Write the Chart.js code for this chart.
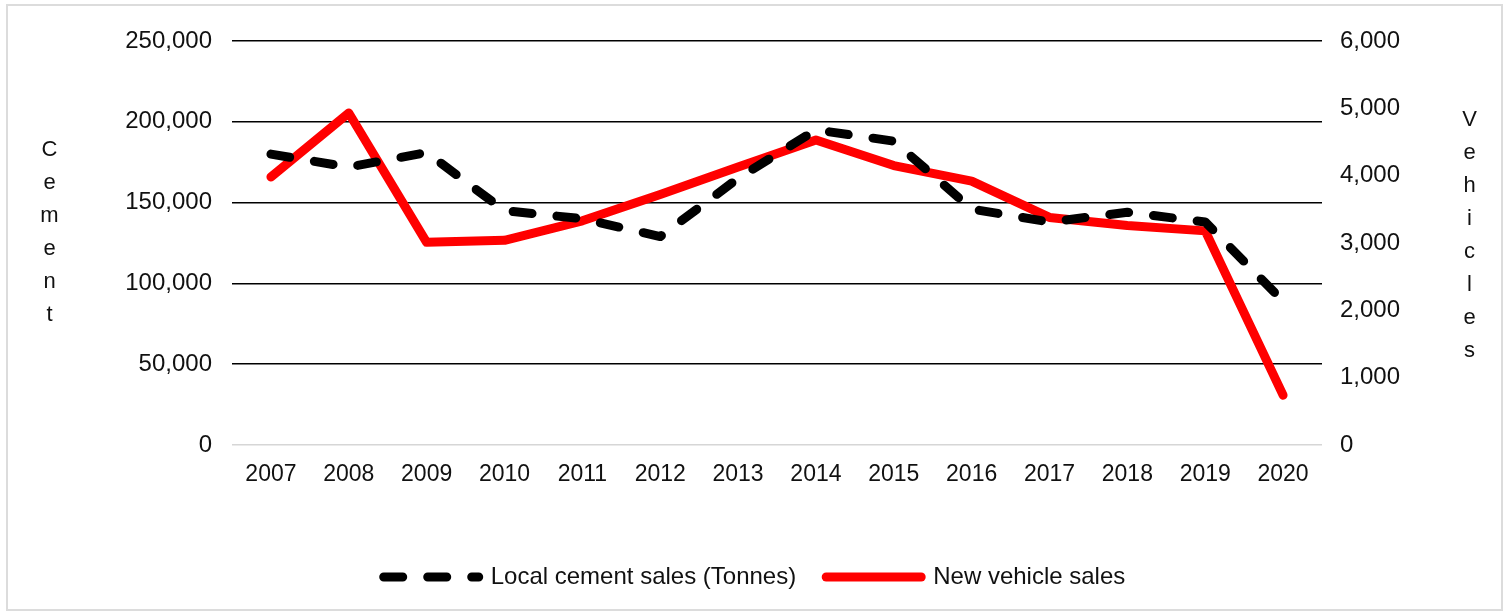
<!DOCTYPE html>
<html>
<head>
<meta charset="utf-8">
<script src="https://cdn.jsdelivr.net/npm/chart.js@4/dist/chart.umd.min.js"></script>
<style>
    body { margin: 0; background: #fff; }
    #wrap { position: relative; width: 1509px; height: 614px; }
    #frame { position: absolute; left: 6px; top: 4px; width: 1493px; height: 603px; border: 2px solid #dcdcdc; }
    canvas { position: absolute; left: 0; top: 0; }
    .axisTitle
    {
        position: absolute;
        font-family: "Liberation Sans", Arial, sans-serif;
        font-size: 22px;
        color: #111;
        writing-mode: vertical-lr;
        text-orientation: upright;
        letter-spacing: 8px;
    }
</style>
</head>
<body>
<div id="wrap">
    <div id="frame"></div>
    <canvas id="chart" width="1509" height="614"></canvas>
    <div class="axisTitle" style="left: 36px; top: 136px;">Cement</div>
    <div class="axisTitle" style="left: 1456px; top: 106px;">Vehicles</div>
</div>
<script>
const years = ["2007", "2008", "2009", "2010", "2011", "2012", "2013", "2014", "2015", "2016", "2017", "2018", "2019", "2020"];
const cementSales = [180000, 172000, 181000, 145000, 140000, 129000, 165000, 195000, 188000, 146000, 138000, 144000, 138000, 89000];
const vehicleSales = [3980, 4930, 3010, 3040, 3330, 3720, 4130, 4530, 4150, 3920, 3380, 3260, 3180, 740];
const cementTicks = { min: 0, max: 250000, step: 50000 };
const vehicleTicks = { min: 0, max: 6000, step: 1000 };

const family = "'Liberation Sans', Arial, sans-serif";
const fmt = v => Number(v).toLocaleString("en-US");

new Chart(document.getElementById("chart"),
{
    type: "line",
    data:
    {
        labels: years,
        datasets:
        [
            {
                label: "Local cement sales (Tonnes)",
                data: cementSales,
                yAxisID: "y",
                borderColor: "#000",
                backgroundColor: "#000",
                borderWidth: 9,
                borderDash: [19, 25],
                borderCapStyle: "round",
                borderJoinStyle: "round",
                pointRadius: 0,
                tension: 0
            },
            {
                label: "New vehicle sales",
                data: vehicleSales,
                yAxisID: "y1",
                borderColor: "#ff0000",
                backgroundColor: "#ff0000",
                borderWidth: 9,
                borderCapStyle: "round",
                borderJoinStyle: "round",
                pointRadius: 0,
                tension: 0
            }
        ]
    },
    options:
    {
        responsive: false,
        animation: false,
        layout:
        {
            padding: { top: 41, left: 0, right: 0, bottom: 15 }
        },
        scales:
        {
            x:
            {
                offset: true,
                grid: { display: false },
                border: { display: false },
                ticks: { font: { family: family, size: 23 }, color: "#111", padding: 8, maxRotation: 0 },
                afterFit: s => { s.height = 90; }
            },
            y:
            {
                position: "left",
                min: cementTicks.min,
                max: cementTicks.max,
                border: { display: false },
                grid:
                {
                    drawTicks: false,
                    lineWidth: 1.5,
                    color: c => c.tick && c.tick.value === 0 ? "#d6d6d6" : "#000"
                },
                ticks: { stepSize: cementTicks.step, font: { family: family, size: 24 }, color: "#111", padding: 20, callback: fmt },
                afterFit: s => { s.width = 232; }
            },
            y1:
            {
                position: "right",
                min: vehicleTicks.min,
                max: vehicleTicks.max,
                border: { display: false },
                grid: { display: false },
                ticks: { stepSize: vehicleTicks.step, font: { family: family, size: 24 }, color: "#111", padding: 10, callback: fmt },
                afterFit: s => { s.width = 187; }
            }
        },
        plugins:
        {
            legend:
            {
                position: "bottom",
                labels:
                {
                    usePointStyle: true,
                    pointStyle: "line",
                    pointStyleWidth: 95,
                    boxHeight: 24,
                    padding: 30,
                    font: { family: family, size: 24 },
                    color: "#111",
                    generateLabels: chart => Chart.defaults.plugins.legend.labels.generateLabels(chart).map(item =>
                    {
                        const ds = chart.data.datasets[item.datasetIndex];
                        return Object.assign(item,
                        {
                            lineDash: ds.borderDash || [],
                            lineCap: "round",
                            lineWidth: ds.borderWidth,
                            strokeStyle: ds.borderColor
                        });
                    })
                }
            },
            tooltip: { enabled: false }
        }
    }
});
</script>
</body>
</html>
